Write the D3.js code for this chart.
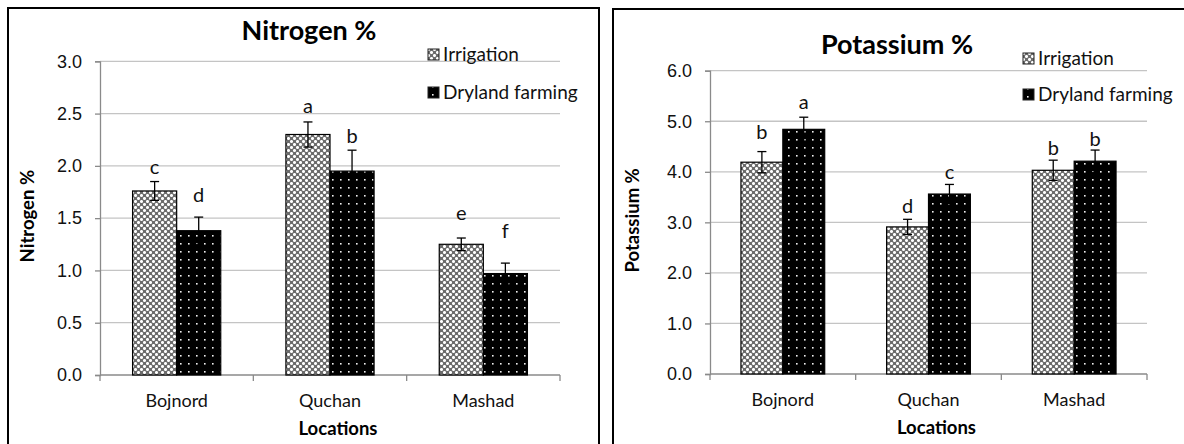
<!DOCTYPE html>
<html lang="en">
<head>
  <meta charset="UTF-8" />
  <title>Nitrogen and Potassium</title>
  <script src="https://cdn.jsdelivr.net/npm/d3@7"></script>
  <style>
    body { margin: 0; background: #fff; }
    svg { display: block; font-family: Lato, "Liberation Sans", sans-serif; }
    .grid line { stroke: #c4c4c4; stroke-width: 1.3; }
    .axis-line { stroke: #8a8a8a; stroke-width: 1.3; }
    .tick-lbl { font-size: 18px; fill: #111; }
    .leg { font-size: 19px; fill: #111; }
    .ttl { font-size: 27px; font-weight: bold; fill: #000; }
    .ax-ttl { font-size: 18.5px; font-weight: bold; fill: #000; }
    .letter { font-size: 20px; fill: #111; }
  </style>
</head>
<body>
  <svg id="fig" width="1184" height="444"></svg>

  <script>
    // data
    const locations = ["Bojnord", "Quchan", "Mashad"];
    const seriesNames = ["Irrigation", "Dryland farming"];

    // Nitrogen %
    const nIrrigation = [1.76, 2.30, 1.25];
    const nIrrigationErr = [0.09, 0.12, 0.06];
    const nDryland = [1.38, 1.95, 0.97];
    const nDrylandErr = [0.13, 0.20, 0.10];
    const nIrrigationLetters = ["c", "a", "e"];
    const nDrylandLetters = ["d", "b", "f"];
    const nIrrigationLetterAt = [1.92, 2.51, 1.48];
    const nDrylandLetterAt = [1.65, 2.22, 1.31];
    const nTicks = [0, 0.5, 1.0, 1.5, 2.0, 2.5, 3.0];

    // Potassium %
    const kIrrigation = [4.19, 2.91, 4.03];
    const kIrrigationErr = [0.21, 0.15, 0.20];
    const kDryland = [4.84, 3.56, 4.21];
    const kDrylandErr = [0.24, 0.19, 0.22];
    const kIrrigationLetters = ["b", "d", "b"];
    const kDrylandLetters = ["a", "c", "b"];
    const kIrrigationLetterAt = [4.64, 3.19, 4.33];
    const kDrylandLetterAt = [5.24, 3.85, 4.52];
    const kTicks = [0, 1.0, 2.0, 3.0, 4.0, 5.0, 6.0];

    const svg = d3.select("#fig");
    const defs = svg.append("defs");

    // irrigation fill: grey lattice with white crosses
    let pIrr = defs.append("pattern")
      .attr("id", "pat-irr")
      .attr("patternUnits", "userSpaceOnUse")
      .attr("width", 6).attr("height", 6);
    pIrr.append("rect").attr("width", 6).attr("height", 6).attr("fill", "#6c6c6c");
    let pixel = (px, py, c) => pIrr.append("rect").attr("x", px).attr("y", py)
      .attr("width", 1).attr("height", 1).attr("fill", c);
    [[3, 2], [2, 3], [3, 3], [4, 3], [3, 4], [0, 0], [0, 1], [1, 0], [5, 0], [0, 5]]
      .forEach(p => pixel(p[0], p[1], "#ffffff"));
    [[1, 1], [5, 5], [1, 5], [5, 1], [2, 2], [4, 4], [2, 4], [4, 2]]
      .forEach(p => pixel(p[0], p[1], "#c4c4c4"));

    // dryland fill: black with small white dots
    let pDry = defs.append("pattern")
      .attr("id", "pat-dry")
      .attr("patternUnits", "userSpaceOnUse")
      .attr("width", 8).attr("height", 8);
    pDry.append("rect").attr("width", 8).attr("height", 8).attr("fill", "#000");
    pDry.append("rect").attr("x", 4).attr("y", 3).attr("width", 1.6).attr("height", 1.6).attr("fill", "#f0f0f0");

    const fills = ["url(#pat-irr)", "url(#pat-dry)"];

    function drawPanel(cfg) {
      let g = svg.append("g");

      // panel frame (runs off the bottom / right of the picture)
      g.append("rect")
        .attr("x", cfg.frame[0]).attr("y", cfg.frame[1])
        .attr("width", cfg.frame[2]).attr("height", 480)
        .attr("fill", "none").attr("stroke", "#000").attr("stroke-width", 2);

      let y = d3.scaleLinear().domain([0, d3.max(cfg.ticks)]).range([cfg.bottom, cfg.top]);
      let x0 = d3.scaleBand().domain(locations).range([cfg.left, cfg.right]).paddingInner(0).paddingOuter(0);
      let groupW = x0.bandwidth() * 0.575;
      let x1 = d3.scaleBand().domain(seriesNames).range([0, groupW]);

      // gridlines
      g.append("g").attr("class", "grid")
        .selectAll("line")
        .data(cfg.ticks.filter(d => d > 0))
        .join("line")
        .attr("x1", cfg.left).attr("x2", cfg.right)
        .attr("y1", d => y(d)).attr("y2", d => y(d));

      // y axis
      let yAxis = g.append("g").attr("transform", `translate(${cfg.left},0)`)
        .call(d3.axisLeft(y).tickValues(cfg.ticks).tickSize(5).tickPadding(13).tickFormat(d3.format(".1f")));
      yAxis.select(".domain").attr("class", "axis-line").attr("fill", "none");
      yAxis.selectAll(".tick line").attr("class", "axis-line");
      yAxis.selectAll("text").attr("class", "tick-lbl").attr("font-family", null).attr("font-size", null);

      // x axis with ticks between categories
      let bounds = locations.map(d => x0(d)).concat([cfg.right]);
      g.append("line").attr("class", "axis-line")
        .attr("x1", cfg.left).attr("x2", cfg.right)
        .attr("y1", y(0)).attr("y2", y(0));
      g.selectAll(".xtick").data(bounds).join("line")
        .attr("class", "axis-line")
        .attr("x1", d => d).attr("x2", d => d)
        .attr("y1", y(0)).attr("y2", y(0) + 6);
      g.selectAll(".xlbl").data(locations).join("text")
        .attr("class", "tick-lbl")
        .attr("x", d => x0(d) + x0.bandwidth() / 2)
        .attr("y", cfg.bottom + 32)
        .attr("text-anchor", "middle")
        .text(d => d);

      // bars
      let series = [
        { name: seriesNames[0], vals: cfg.irr, err: cfg.irrErr, letters: cfg.irrLetters, at: cfg.irrAt },
        { name: seriesNames[1], vals: cfg.dry, err: cfg.dryErr, letters: cfg.dryLetters, at: cfg.dryAt }
      ];
      series.forEach((s, si) => {
        let rows = locations.map((loc, i) => ({ loc, v: s.vals[i], e: s.err[i], l: s.letters[i], at: s.at[i] }));
        let bx = d => x0(d.loc) + (x0.bandwidth() - groupW) / 2 + x1(s.name);
        let cx = d => bx(d) + x1.bandwidth() / 2;

        g.append("g").selectAll("rect").data(rows).join("rect")
          .attr("x", bx)
          .attr("y", d => y(d.v))
          .attr("width", x1.bandwidth())
          .attr("height", d => y(0) - y(d.v))
          .attr("fill", fills[si])
          .attr("stroke", "#000").attr("stroke-width", 1.2);

        // error bars
        let eb = g.append("g").attr("stroke", "#000").attr("stroke-width", 1.3);
        eb.selectAll(".v").data(rows).join("line")
          .attr("x1", cx).attr("x2", cx)
          .attr("y1", d => y(d.v - d.e)).attr("y2", d => y(d.v + d.e));
        eb.selectAll(".t").data(rows).join("line")
          .attr("x1", d => cx(d) - 4.5).attr("x2", d => cx(d) + 4.5)
          .attr("y1", d => y(d.v + d.e)).attr("y2", d => y(d.v + d.e));
        eb.selectAll(".b").data(rows).join("line")
          .attr("x1", d => cx(d) - 4.5).attr("x2", d => cx(d) + 4.5)
          .attr("y1", d => y(d.v - d.e)).attr("y2", d => y(d.v - d.e));

        // significance letters
        g.append("g").selectAll("text").data(rows).join("text")
          .attr("class", "letter")
          .attr("x", cx)
          .attr("y", d => y(d.at))
          .attr("text-anchor", "middle")
          .text(d => d.l);
      });

      // titles
      g.append("text").attr("class", "ttl")
        .attr("x", cfg.titleX).attr("y", cfg.titleY)
        .attr("text-anchor", "middle").text(cfg.title);
      g.append("text").attr("class", "ax-ttl")
        .attr("x", (cfg.left + cfg.right) / 2 + 8).attr("y", cfg.bottom + 60)
        .attr("text-anchor", "middle").text("Locations");
      g.append("text").attr("class", "ax-ttl")
        .attr("transform", `translate(${cfg.yTitleX},${(cfg.top + cfg.bottom) / 2 - 2}) rotate(-90)`)
        .attr("text-anchor", "middle").text(cfg.title);

      // legend
      let leg = g.append("g").attr("transform", `translate(${cfg.legX},${cfg.legY})`);
      seriesNames.forEach((name, i) => {
        let row = leg.append("g").attr("transform", `translate(0,${i * cfg.legGap})`);
        row.append("rect").attr("x", 0).attr("y", -12).attr("width", 11).attr("height", 11)
          .attr("fill", fills[i]).attr("stroke", "#222").attr("stroke-width", 1);
        row.append("text").attr("class", "leg").attr("x", 15).attr("y", 0).text(name);
      });
    }

    drawPanel({
      frame: [8, 8, 591], left: 100, right: 560, top: 61.3, bottom: 375,
      ticks: nTicks, title: "Nitrogen %", titleX: 309, titleY: 40, yTitleX: 34,
      irr: nIrrigation, irrErr: nIrrigationErr, irrLetters: nIrrigationLetters, irrAt: nIrrigationLetterAt,
      dry: nDryland, dryErr: nDrylandErr, dryLetters: nDrylandLetters, dryAt: nDrylandLetterAt,
      legX: 428, legY: 61, legGap: 38
    });

    drawPanel({
      frame: [613, 9, 620], left: 710, right: 1147, top: 70.7, bottom: 374,
      ticks: kTicks, title: "Potassium %", titleX: 897, titleY: 54, yTitleX: 639,
      irr: kIrrigation, irrErr: kIrrigationErr, irrLetters: kIrrigationLetters, irrAt: kIrrigationLetterAt,
      dry: kDryland, dryErr: kDrylandErr, dryLetters: kDrylandLetters, dryAt: kDrylandLetterAt,
      legX: 1023, legY: 65, legGap: 36
    });
  </script>
</body>
</html>
